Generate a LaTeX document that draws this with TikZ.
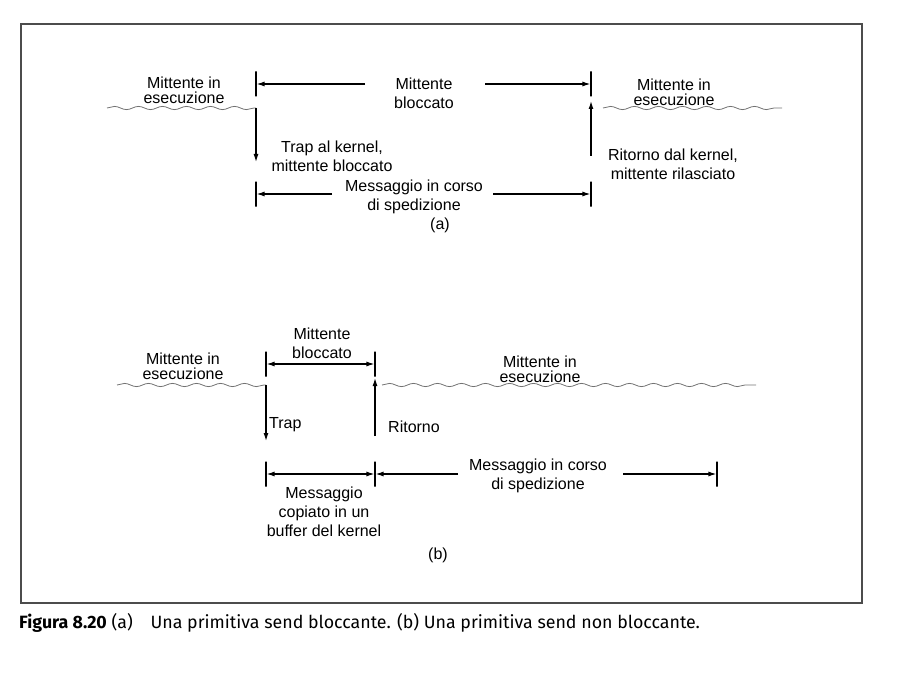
\documentclass[tikz,border=0pt]{standalone}
\usepackage{fontspec}
\setmainfont{Liberation Sans}
\newfontfamily\didafont{Fira Sans}
\usepackage{tikz}
\usetikzlibrary{positioning,arrows.meta,decorations.pathmorphing}
\definecolor{grigio}{gray}{0.45}
\definecolor{cornice}{gray}{0.3}

\begin{document}
\begin{tikzpicture}[x=1pt, y=-1pt, every node/.style={scale=1}]
    \tikzstyle{testo}=[ %
%     draw, rectangle,
      align=center,
      inner sep=0,
      font=\fontsize{16}{19}\selectfont
    ]
    \tikzstyle{stretto}=[testo, font=\fontsize{16}{15}\selectfont]
    \tikzstyle{barra}=[draw, line width=1.1pt, rectangle,
      minimum width=0pt, minimum height=25pt, inner sep=0pt]
    \tikzstyle{freccia}=[line width=1.2pt, -{Latex[length=8pt,width=5pt]}]
    \tikzstyle{freccia2}=[line width=1.2pt,
      {Latex[length=8pt,width=5pt]}-{Latex[length=8pt,width=5pt]}]
    \tikzstyle{onda}=[grigio, line width=0.8pt,
      decorate, decoration={snake, segment length=24pt, amplitude=1.6pt}]
  %  \draw[help lines] (0,0) grid[step=50] (897,682);
    \useasboundingbox (0,0) rectangle (897,682);
    \draw[cornice, line width=1.8pt] (21,24) rectangle (862,603);

    % (a) send bloccante
    \coordinate (a0) at (107,108);
    \coordinate (aS) at (256,108);
    \coordinate (aT) at (256,162);
    \coordinate (aU0) at (591,156);
    \coordinate (aU1) at (591,101);
    \coordinate (aR0) at (603,108);
    \coordinate (aR1) at (782,108);
    \path (184,90)  node(aesec) [stretto] {Mittente in\\esecuzione}
          (424,93)  node(ablk)  [testo] {Mittente\\bloccato}
          (674,92)  node(aesec2) [stretto] {Mittente in\\esecuzione}
          (332,156) node(atrap) [testo] {Trap al kernel,\\mittente bloccato}
          (673,164) node(aret)  [testo] {Ritorno dal kernel,\\mittente rilasciato}
          (414,197) node(amsg)  [testo] {Messaggio in corso\\di spedizione}
          (440,225) node(alab)  [testo] {(a)};
    \node[barra] (aL1) at (256,84) {};
    \node[barra] (aR1b) at (591,84) {};
    \node[barra] (aL2) at (256,194) {};
    \node[barra] (aR2) at (591,194) {};
    \coordinate (aB1) at (365,84);
    \coordinate (aB2) at (485,84);
    \coordinate (aM1) at (332,194);
    \coordinate (aM2) at (493,194);
    \draw[onda] (a0) -- (aS);
    \draw[onda] (aR0) -- (aR1);
    \draw[freccia] (aS) -- (aT);
    \draw[freccia] (aU0) -- (aU1);
    \draw[freccia] (aB1) -- (aL1);
    \draw[freccia] (aB2) -- (aR1b);
    \draw[freccia] (aM1) -- (aL2);
    \draw[freccia] (aM2) -- (aR2);

    % (b) send non bloccante
    \coordinate (b0) at (117,385);
    \coordinate (bS) at (266,385);
    \coordinate (bT) at (266,441);
    \coordinate (bU0) at (375,436);
    \coordinate (bU1) at (375,378);
    \coordinate (bR0) at (382,385);
    \coordinate (bR1) at (756,385);
    \path (183,366) node(besec) [stretto] {Mittente in\\esecuzione}
          (322,343) node(bblk)  [testo] {Mittente\\bloccato}
          (540,369) node(besec2) [stretto] {Mittente in\\esecuzione}
          (269,425) node(btrap) [testo, anchor=west] {Trap}
          (388,427) node(bret)  [testo, anchor=west] {Ritorno}
          (324,512) node(bcop)  [testo] {Messaggio\\copiato in un\\buffer del kernel}
          (538,476) node(bmsg)  [testo] {Messaggio in corso\\di spedizione}
          (438,555) node(blab)  [testo] {(b)};
    \node[barra] (bL1) at (266,364) {};
    \node[barra] (bR1b) at (375,364) {};
    \node[barra] (bL2) at (266,474) {};
    \node[barra] (bR2) at (375,474) {};
    \node[barra] (bE2) at (717,474) {};
    \coordinate (bM1) at (458,474);
    \coordinate (bM2) at (623,474);
    \draw[onda] (b0) -- (bS);
    \draw[onda] (bR0) -- (bR1);
    \draw[freccia] (bS) -- (bT);
    \draw[freccia] (bU0) -- (bU1);
    \draw[freccia2] (bL1) -- (bR1b);
    \draw[freccia2] (bL2) -- (bR2);
    \draw[freccia] (bM1) -- (bR2);
    \draw[freccia] (bM2) -- (bE2);

    % didascalia
    \node(didasc) [anchor=west, inner sep=0,
          font=\didafont\fontsize{17.8}{20}\selectfont] at (19,623)
          {\textbf{Figura 8.20} (a)\quad Una primitiva send bloccante. (b) Una primitiva send non bloccante.};
  \end{tikzpicture}
\end{document}
